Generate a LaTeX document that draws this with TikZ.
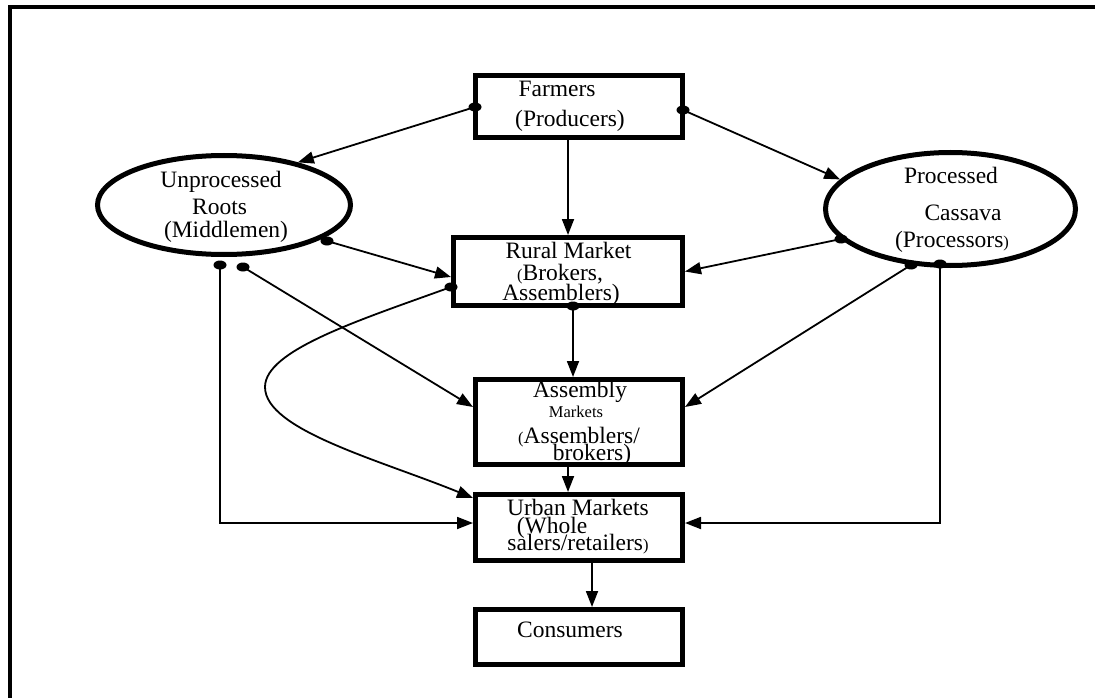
\documentclass[tikz,border=0pt]{standalone}
\usepackage{fontspec}
\setmainfont{Liberation Serif}
\usetikzlibrary{arrows.meta,shapes.geometric}
\newcommand\smf[1]{{\fontsize{16.5}{18}\selectfont #1}}
\begin{document}
\begin{tikzpicture}[x=1pt,y=-1pt,
  box/.style={draw,line width=5pt,rectangle,inner sep=0pt},
  oval/.style={draw,line width=5pt,ellipse,inner sep=0pt},
  txt/.style={inner sep=0pt,anchor=base,text height=14pt,text depth=1pt,font=\fontsize{23.5}{26}\selectfont},
  conn/.style={line width=1.8pt},
  arr/.style={conn,-{Triangle[length=16pt,width=12pt]}},
  dotn/.style={fill=black,ellipse,inner sep=0pt,minimum width=13pt,minimum height=9pt},
  frame/.style={line width=4pt}]
\useasboundingbox (0,0) rectangle (1095,698);
% outer frame (top and left edges visible)
\coordinate (fTL) at (9.5,7);
\coordinate (fTR) at (1095,7);
\coordinate (fBL) at (9.5,698);
\draw[frame] (fTR) -- (fTL) -- (fBL);

% texts
\node[txt] (tF1) at (557,97) {Farmers};
\node[txt] (tF2) at (570,127) {(Producers)};
\node[txt] (tU1) at (221,187) {Unprocessed};
\node[txt] (tU2) at (219.5,214) {Roots};
\node[txt] (tU3) at (226,237) {(Middlemen)};
\node[txt] (tP1) at (951,183) {Processed};
\node[txt] (tP2) at (963,220) {Cassava};
\node[txt] (tP3) at (952,247) {(Processors\smf{)}};
\node[txt] (tR1) at (568.5,258) {Rural Market};
\node[txt] (tR2) at (560,280) {\smf{(}Brokers,};
\node[txt] (tR3) at (561,300) {Assemblers)};
\node[txt] (tA1) at (580,397) {Assembly};
\node[txt,text height=10pt] (tA2) at (576,417) {\smf{Markets}};
\node[txt] (tA3) at (579,443) {\smf{(}Assemblers/};
\node[txt] (tA4) at (592,460) {brokers)};
\node[txt] (tB1) at (578,515) {Urban Markets};
\node[txt] (tB2) at (552,533) {(Whole};
\node[txt] (tB3) at (578,550) {salers/retailers\smf{)}};
\node[txt] (tC1) at (570,637) {Consumers};

% boxes and ovals
\node[box,minimum width=207pt,minimum height=62pt] (farmers) at (579,106.5) {};
\node[box,minimum width=229pt,minimum height=68pt] (rural) at (568,271.5) {};
\node[box,minimum width=207pt,minimum height=85pt] (assembly) at (579,422) {};
\node[box,minimum width=207pt,minimum height=66pt] (urban) at (579,527.5) {};
\node[box,minimum width=207pt,minimum height=55pt] (consumers) at (579,637) {};
\node[oval,minimum width=253pt,minimum height=99pt] (unp) at (224,205) {};
\node[oval,minimum width=250pt,minimum height=113pt] (pro) at (950.5,209) {};

% columns
\coordinate (colA) at (568,0);
\coordinate (colB) at (592,0);

% dots
\node[dotn] (d1) at (475,107) {};
\node[dotn] (d2) at (683,110) {};
\node[dotn] (d3) at (327,241) {};
\node[dotn] (d4) at (841,239) {};
\node[dotn] (d5) at (451,287) {};
\node[dotn] (d6) at (573,306) {};
\node[dotn] (d7) at (220,265) {};
\node[dotn] (d8) at (243,267) {};
\node[dotn] (d9) at (911,265) {};
\node[dotn] (d10) at (940,264) {};

% connectors
\draw[arr] (d1.center) -- (unp.30);
\draw[arr] (d2.center) -- (pro.165);
\draw[arr] (farmers.south -| colA) -- (rural.north -| colA);
\draw[arr] (d3.center) -- ([yshift=-5.5pt]rural.west);
\draw[arr] (d4.center) -- (rural.east);
\draw[arr] (d5.center) .. controls (360,320) and (265,350) .. (265,387)
                       .. controls (265,430) and (380,460) .. ([yshift=29.5pt]urban.west);
\draw[arr] (d6.center) -- (assembly.north -| d6);
\draw[arr] (d7.center) |- ([yshift=4.5pt]urban.west);
\draw[arr] (d8.center) -- ([yshift=15pt]assembly.west);
\draw[arr] (assembly.south -| colA) -- (urban.north -| colA);
\draw[arr] (d9.center) -- ([yshift=15pt]assembly.east);
\draw[arr] (d10.center) |- ([yshift=4.5pt]urban.east);
\draw[arr] (urban.south -| colB) -- (consumers.north -| colB);
\end{tikzpicture}
\end{document}
